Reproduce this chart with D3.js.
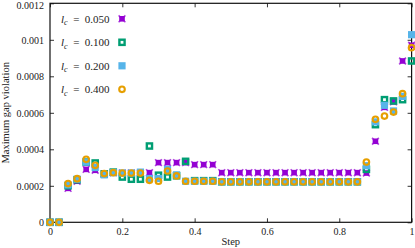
<!DOCTYPE html>
<html>
<head>
<meta charset="utf-8">
<script src="https://cdn.jsdelivr.net/npm/d3@7"></script>
<style>
  body { margin: 0; background: #fff; }
  text { font-family: "Liberation Serif", "DejaVu Serif", serif; }
</style>
</head>
<body>
<script>
// steps 0, 0.025, ..., 1
const steps = [0, 0.025, 0.05, 0.075, 0.1, 0.125, 0.15, 0.175, 0.2, 0.225,
  0.25, 0.275, 0.3, 0.325, 0.35, 0.375, 0.4, 0.425, 0.45, 0.475,
  0.5, 0.525, 0.55, 0.575, 0.6, 0.625, 0.65, 0.675, 0.7, 0.725,
  0.75, 0.775, 0.8, 0.825, 0.85, 0.875, 0.9, 0.925, 0.95, 0.975, 1];

const lc050 = [0, 0, 0.000186, 0.000225, 0.00029, 0.000285, 0.000265, 0.000272, 0.00027, 0.00027,
  0.00027, 0.000272, 0.000327, 0.000327, 0.000327, 0.000327, 0.000316, 0.000316, 0.000316, 0.000272,
  0.000272, 0.000272, 0.000272, 0.000272, 0.000272, 0.000272, 0.000272, 0.000272, 0.000272, 0.000272,
  0.000272, 0.000272, 0.000272, 0.000272, 0.000272, 0.00027, 0.000444, 0.00063, 0.00066, 0.000884, 0.00097];
const lc100 = [0, 0, 0.0002, 0.000233, 0.00033, 0.000325, 0.000265, 0.000275, 0.000248, 0.000236,
  0.000236, 0.000418, 0.000258, 0.000248, 0.000255, 0.000334, 0.000228, 0.000228, 0.000228, 0.000222,
  0.000222, 0.000222, 0.000222, 0.000222, 0.000222, 0.000222, 0.000222, 0.000222, 0.000222, 0.000222,
  0.000222, 0.000222, 0.000222, 0.000222, 0.000222, 0.00029, 0.000535, 0.000672, 0.000665, 0.000672, 0.000884];
const lc200 = [0, 0, 0.000205, 0.000236, 0.00033, 0.0003, 0.00026, 0.000272, 0.00027, 0.00027,
  0.000275, 0.00024, 0.00024, 0.00029, 0.00026, 0.000225, 0.000225, 0.000225, 0.000225, 0.000222,
  0.000222, 0.000222, 0.000222, 0.000222, 0.000222, 0.000222, 0.000222, 0.000222, 0.000222, 0.000222,
  0.000222, 0.000222, 0.000222, 0.000222, 0.000222, 0.00031, 0.00055, 0.000641, 0.00061, 0.00069, 0.001028];
const lc400 = [0, 0, 0.000212, 0.000239, 0.000345, 0.000312, 0.000267, 0.000272, 0.00027, 0.00027,
  0.00027, 0.00023, 0.000225, 0.000281, 0.000254, 0.000225, 0.000225, 0.000225, 0.000225, 0.000222,
  0.000222, 0.000222, 0.000222, 0.000222, 0.000222, 0.000222, 0.000222, 0.000222, 0.000222, 0.000222,
  0.000222, 0.000222, 0.000222, 0.000222, 0.000222, 0.00033, 0.000564, 0.000582, 0.000604, 0.000705, 0.000957];

const labels = ["0.050", "0.100", "0.200", "0.400"];
const xTicks = [0, 0.2, 0.4, 0.6, 0.8, 1];
const yTicks = [0, 0.0002, 0.0004, 0.0006, 0.0008, 0.001, 0.0012];
const yTickLabels = ["0", "0.0002", "0.0004", "0.0006", "0.0008", "0.001", "0.0012"];

const series = [
  { name: labels[0], values: lc050, color: "#9400d3", kind: "cross" },
  { name: labels[1], values: lc100, color: "#009e73", kind: "osquare" },
  { name: labels[2], values: lc200, color: "#56b4e9", kind: "square" },
  { name: labels[3], values: lc400, color: "#e69f00", kind: "ocircle" }
];

const W = 415, H = 248;
const margin = { top: 3.3, right: 3.4, bottom: 25.7, left: 50 };
const width = W - margin.left - margin.right;
const height = H - margin.top - margin.bottom;

const x = d3.scaleLinear().domain([0, 1]).range([0, width]);
const y = d3.scaleLinear().domain([0, 0.0012]).range([height, 0]);

const svg = d3.select("body").append("svg")
  .attr("width", W)
  .attr("height", H)
  .append("g")
  .attr("transform", "translate(" + margin.left + "," + margin.top + ")");

// ticks on all four sides, pointing inward
svg.append("g")
  .attr("transform", "translate(0," + height + ")")
  .call(d3.axisBottom(x).tickValues(xTicks).tickSize(-4).tickPadding(6).tickFormat(d3.format("")))
  .call(g => g.select(".domain").remove());
svg.append("g")
  .call(d3.axisTop(x).tickValues(xTicks).tickSize(-4).tickFormat(""))
  .call(g => g.select(".domain").remove());
svg.append("g")
  .attr("class", "yaxis")
  .call(d3.axisLeft(y).tickValues(yTicks).tickSize(-4).tickPadding(6).tickFormat((d, i) => yTickLabels[i]))
  .call(g => g.select(".domain").remove());
svg.append("g")
  .attr("transform", "translate(" + width + ",0)")
  .call(d3.axisRight(y).tickValues(yTicks).tickSize(-4).tickFormat(""))
  .call(g => g.select(".domain").remove());

svg.selectAll(".tick line").attr("stroke", "#333");
svg.selectAll(".tick text")
  .attr("font-size", 10)
  .attr("fill", "#222")
  .style("font-family", "'Liberation Serif', serif");
// keep the top label inside the page
svg.selectAll(".yaxis .tick text").filter(d => d === 0.0012).attr("dy", "0.55em");

svg.append("rect")
  .attr("width", width)
  .attr("height", height)
  .attr("fill", "none")
  .attr("stroke", "#111")
  .attr("stroke-width", 1.2);

// axis titles
svg.append("text")
  .attr("x", width / 2)
  .attr("y", height + 23)
  .attr("text-anchor", "middle")
  .attr("font-size", 10.5)
  .attr("fill", "#222")
  .text("Step");

svg.append("text")
  .attr("transform", "translate(" + (-41) + "," + (height / 2) + ") rotate(-90)")
  .attr("text-anchor", "middle")
  .attr("font-size", 10.5)
  .attr("fill", "#222")
  .text("Maximum gap violation");

function drawMarker(g, kind, color) {
  if (kind === "cross") {
    g.append("rect").attr("x", -2.8).attr("y", -2.8).attr("width", 5.6).attr("height", 5.6).attr("fill", color);
    g.append("path").attr("d", "M-3.4,-3.4L3.4,3.4M-3.4,3.4L3.4,-3.4")
      .attr("stroke", color).attr("stroke-width", 1.6).attr("opacity", 0.7);
  } else if (kind === "osquare") {
    g.append("rect").attr("x", -2.6).attr("y", -2.6).attr("width", 5.2).attr("height", 5.2)
      .attr("fill", "none").attr("stroke", color).attr("stroke-width", 2.4);
  } else if (kind === "square") {
    g.append("rect").attr("x", -3.6).attr("y", -3.6).attr("width", 7.2).attr("height", 7.2).attr("fill", color);
  } else {
    g.append("circle").attr("r", 2.8)
      .attr("fill", "none").attr("stroke", color).attr("stroke-width", 2.1);
  }
}

series.forEach(s => {
  const g = svg.append("g");
  g.selectAll("g")
    .data(s.values)
    .enter().append("g")
    .attr("transform", (d, i) => "translate(" + x(steps[i]) + "," + y(d) + ")")
    .each(function () { drawMarker(d3.select(this), s.kind, s.color); });
});

// legend
const legend = svg.append("g")
  .selectAll("g")
  .data(series)
  .enter().append("g")
  .attr("transform", (d, i) => "translate(0," + (15.5 + i * 23.5) + ")");

legend.each(function (d) {
  const g = d3.select(this);
  const t = g.append("text")
    .attr("x", 11)
    .attr("y", 4)
    .attr("font-size", 11)
    .attr("fill", "#222");
  t.append("tspan").attr("font-style", "italic").text("l");
  t.append("tspan").attr("font-style", "italic").attr("font-size", 8).attr("dy", 2.5).text("c");
  t.append("tspan").attr("dy", -2.5).attr("xml:space", "preserve").text("  =  " + d.name);
  drawMarker(g.append("g").attr("transform", "translate(72,0)"), d.kind, d.color);
});
</script>
</body>
</html>
